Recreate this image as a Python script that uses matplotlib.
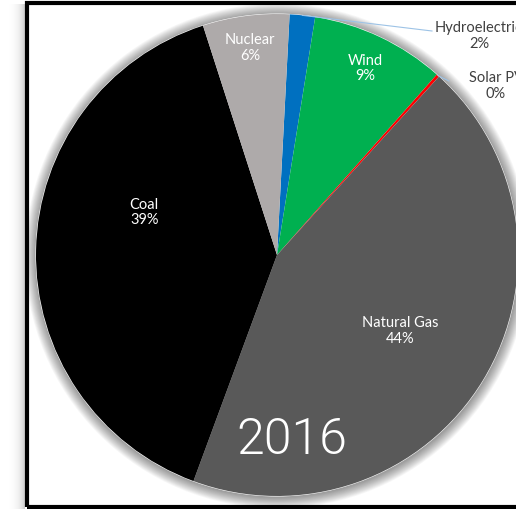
import numpy as np
import matplotlib.pyplot as plt
from matplotlib.patches import Rectangle, Circle

# 2016 generation mix, clockwise from the top
sources = ["Hydroelectric", "Wind", "Solar PV", "Natural Gas", "Coal", "Nuclear"]
shares = [1.7, 9.0, 0.2, 43.9, 39.4, 5.8]
colors = ["#0070c0", "#00b050", "#ff0000", "#595959", "#000000", "#aeaaaa"]
year = "2016"

W, H = 516, 510
fig = plt.figure(figsize=(W / 100, H / 100), dpi=100)
ax = fig.add_axes([0, 0, 1, 1])

font = ["Lato", "DejaVu Sans"]

# soft shadow to the left of the frame
grad = np.linspace(0, 1, 50).reshape(1, -1) ** 2
ax.imshow(grad, extent=(8, 25, 0, 505), cmap="Greys", vmin=0, vmax=3.2,
          aspect="auto", zorder=0)
ax.add_patch(Rectangle((26.5, 2), 520, 504, fill=False, ec="black", lw=3.0,
                       zorder=5))

cx, cy, r = 277, 254, 241

# glow around the pie
for i in range(14):
    ax.add_patch(Circle((cx + 0.5, cy - 1), r + 1 + i * 0.8, color="black",
                        alpha=0.03, lw=0, zorder=1))
ax.add_patch(Circle((cx, cy), r + 0.5, color="white", lw=0, zorder=1.5))

wedges, _ = ax.pie(shares, colors=colors, startangle=87, counterclock=False,
                   center=(cx, cy), radius=r, frame=True,
                   wedgeprops=dict(linewidth=0, zorder=2))
ax.set_xlim(0, W)
ax.set_ylim(0, H)
ax.set_aspect("equal")
ax.axis("off")

# inside labels: (fraction of radius, angle nudge in degrees)
inside = {"Wind": (0.86, 0), "Natural Gas": (0.6, 0), "Coal": (0.58, -17),
          "Nuclear": (0.87, 0)}
# outside labels: text offset from the centre
outside = {"Hydroelectric": (202, 220), "Solar PV": (219, 170)}
total = sum(shares)
for w, name, val in zip(wedges, sources, shares):
    mid = (w.theta1 + w.theta2) / 2
    label = f"{name}\n{round(val / total * 100):.0f}%"
    if name in inside:
        f, nudge = inside[name]
        ang = np.deg2rad(mid + nudge)
        ax.text(cx + f * r * np.cos(ang), cy + f * r * np.sin(ang), label,
                ha="center", va="center", color="white", fontsize=10.5,
                family=font, linespacing=1.15, zorder=4)
    else:
        ang = np.deg2rad(mid)
        dx, dy = outside[name]
        tx, ty = cx + dx, cy + dy
        ex, ey = cx + r * np.cos(ang), cy + r * np.sin(ang)
        ax.plot([ex, tx - 47], [ey, ty + 4], color="#9dc3e6", lw=0.8,
                zorder=3)
        ax.text(tx, ty, label, ha="center", va="center", color="#404040",
                fontsize=10.5, family=font, linespacing=1.15, zorder=4)

ax.text(292, 70, year, ha="center", va="center", color="white",
        fontsize=36, family=["Roboto", "DejaVu Sans"], fontweight=300,
        zorder=4)

fig.savefig("out.png", dpi=100)
